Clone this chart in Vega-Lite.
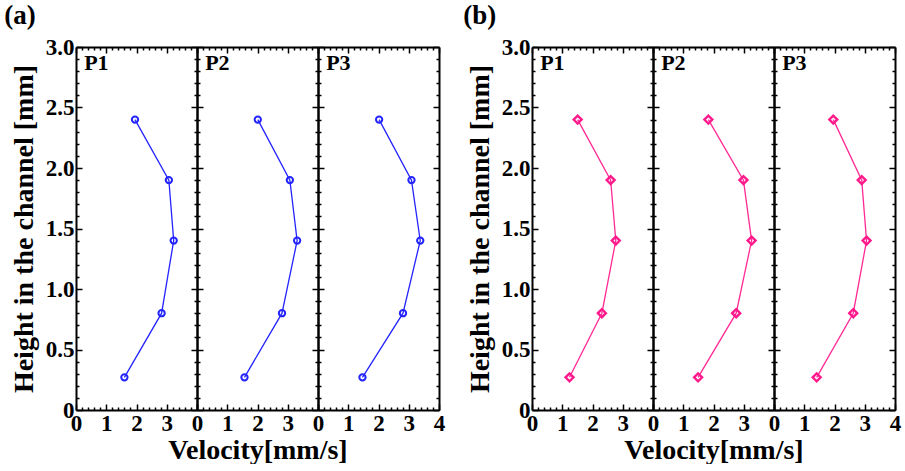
{
  "$schema": "https://vega.github.io/schema/vega-lite/v6.json",
  "background": "white",
  "padding": {"left": 4, "top": 2, "right": 1, "bottom": 0},
  "config": {
    "font": "Liberation Serif",
    "view": {"stroke": null},
    "axis": {
      "grid": false,
      "domainColor": "black",
      "domainWidth": 2,
      "tickColor": "black",
      "tickWidth": 1.5,
      "labelFont": "Liberation Serif",
      "labelFontSize": 23,
      "labelFontWeight": "bold",
      "labelColor": "black",
      "labelOverlap": false,
      "labelFlush": false,
      "labelBound": false,
      "titleFont": "Liberation Serif",
      "titleFontSize": 28,
      "titleFontWeight": "bold",
      "titleColor": "black"
    },
    "axisLeft": {"labelPadding": 8, "titlePadding": 7},
    "axisBottom": {"labelPadding": 8, "titlePadding": 1},
    "title": {"font": "Liberation Serif", "fontSize": 27, "fontWeight": "bold", "color": "black"}
  },
  "datasets": {
    "a": [
      {"panel": "P1", "h": 0.27, "v": 1.60},
      {"panel": "P1", "h": 0.8, "v": 2.83},
      {"panel": "P1", "h": 1.4, "v": 3.23},
      {"panel": "P1", "h": 1.9, "v": 3.07},
      {"panel": "P1", "h": 2.4, "v": 1.95},
      {"panel": "P2", "h": 0.27, "v": 1.57},
      {"panel": "P2", "h": 0.8, "v": 2.81},
      {"panel": "P2", "h": 1.4, "v": 3.31},
      {"panel": "P2", "h": 1.9, "v": 3.07},
      {"panel": "P2", "h": 2.4, "v": 2.01},
      {"panel": "P3", "h": 0.27, "v": 1.47},
      {"panel": "P3", "h": 0.8, "v": 2.81},
      {"panel": "P3", "h": 1.4, "v": 3.38},
      {"panel": "P3", "h": 1.9, "v": 3.09},
      {"panel": "P3", "h": 2.4, "v": 2.02}
    ],
    "b": [
      {"panel": "P1", "h": 0.27, "v": 1.24},
      {"panel": "P1", "h": 0.8, "v": 2.31},
      {"panel": "P1", "h": 1.4, "v": 2.77},
      {"panel": "P1", "h": 1.9, "v": 2.60},
      {"panel": "P1", "h": 2.4, "v": 1.51},
      {"panel": "P2", "h": 0.27, "v": 1.49},
      {"panel": "P2", "h": 0.8, "v": 2.75},
      {"panel": "P2", "h": 1.4, "v": 3.26},
      {"panel": "P2", "h": 1.9, "v": 2.99},
      {"panel": "P2", "h": 2.4, "v": 1.83},
      {"panel": "P3", "h": 0.27, "v": 1.41},
      {"panel": "P3", "h": 0.8, "v": 2.62},
      {"panel": "P3", "h": 1.4, "v": 3.06},
      {"panel": "P3", "h": 1.9, "v": 2.90},
      {"panel": "P3", "h": 2.4, "v": 1.96}
    ]
  },
  "spacing": 18,
  "hconcat": [
    {
      "title": {"text": "(a)", "anchor": "start", "frame": "bounds", "offset": 6, "dx": -6},
      "spacing": 0,
      "bounds": "flush",
      "hconcat": [
        {
          "width": 121, "height": 363,
          "data": {"name": "a"},
          "transform": [{"filter": "datum.panel == 'P1'"}],
          "layer": [
            {"mark": {"type": "line", "color": "#2424ff", "strokeWidth": 1.3},
             "encoding": {
               "x": {"field": "v", "type": "quantitative", "scale": {"domain": [0, 4], "nice": false, "zero": false},
                     "axis": {"orient": "bottom", "title": null, "values": [0, 1, 2, 3, 4], "tickSize": -6, "labelExpr": "datum.value < 3.5 ? datum.label : ''"}},
               "y": {"field": "h", "type": "quantitative", "scale": {"domain": [0, 3], "nice": false, "zero": false},
                     "axis": {"orient": "left", "title": "Height in the channel [mm]", "values": [0, 0.5, 1, 1.5, 2, 2.5, 3], "tickSize": -6,
                              "labelExpr": "datum.value == 0 ? '0' : format(datum.value, '.1f')"}},
               "order": {"field": "h", "type": "quantitative"}
             }},
            {"mark": {"type": "point", "shape": "circle", "filled": false, "color": "#2424ff", "strokeWidth": 2, "size": 40, "opacity": 1},
             "encoding": {
               "x": {"field": "v", "type": "quantitative", "axis": {"orient": "top", "title": null, "labels": false, "values": [0, 1, 2, 3, 4], "tickSize": -6}},
               "y": {"field": "h", "type": "quantitative", "axis": {"orient": "right", "title": null, "labels": false, "values": [0, 0.5, 1, 1.5, 2, 2.5, 3], "tickSize": -6}}
             }},
            {"mark": {"type": "point", "opacity": 0},
             "encoding": {
               "x": {"field": "v", "type": "quantitative", "axis": {"orient": "bottom", "title": null, "labels": false, "domain": false, "tickSize": -3, "values": [0.2,0.4,0.6,0.8,1.2,1.4,1.6,1.8,2.2,2.4,2.6,2.8,3.2,3.4,3.6,3.8]}},
               "y": {"field": "h", "type": "quantitative", "axis": {"orient": "left", "title": null, "labels": false, "domain": false, "tickSize": -3, "values": [0.1,0.2,0.3,0.4,0.6,0.7,0.8,0.9,1.1,1.2,1.3,1.4,1.6,1.7,1.8,1.9,2.1,2.2,2.3,2.4,2.6,2.7,2.8,2.9]}}
             }},
            {"transform": [{"filter": "datum.h == 2.4"}],
             "mark": {"type": "text", "align": "left", "baseline": "top", "fontSize": 22, "fontWeight": "bold", "color": "black"},
             "encoding": {
               "x": {"datum": 0.27, "type": "quantitative", "axis": {"orient": "top", "title": null, "labels": false, "domain": false, "tickSize": -3, "values": [0.2,0.4,0.6,0.8,1.2,1.4,1.6,1.8,2.2,2.4,2.6,2.8,3.2,3.4,3.6,3.8]}},
               "y": {"datum": 2.95, "type": "quantitative", "axis": {"orient": "right", "title": null, "labels": false, "domain": false, "tickSize": -3, "values": [0.1,0.2,0.3,0.4,0.6,0.7,0.8,0.9,1.1,1.2,1.3,1.4,1.6,1.7,1.8,1.9,2.1,2.2,2.3,2.4,2.6,2.7,2.8,2.9]}},
               "text": {"field": "panel"}
             }}
          ],
          "resolve": {"axis": {"x": "independent", "y": "independent"}}
        },
        {
          "width": 121, "height": 363,
          "data": {"name": "a"},
          "transform": [{"filter": "datum.panel == 'P2'"}],
          "layer": [
            {"mark": {"type": "line", "color": "#2424ff", "strokeWidth": 1.3},
             "encoding": {
               "x": {"field": "v", "type": "quantitative", "scale": {"domain": [0, 4], "nice": false, "zero": false},
                     "axis": {"orient": "bottom", "title": "Velocity[mm/s]", "values": [0, 1, 2, 3, 4], "tickSize": -6, "labelExpr": "datum.value < 3.5 ? datum.label : ''"}},
               "y": {"field": "h", "type": "quantitative", "scale": {"domain": [0, 3], "nice": false, "zero": false},
                     "axis": {"orient": "left", "title": null, "labels": false, "values": [0, 0.5, 1, 1.5, 2, 2.5, 3], "tickSize": -6}},
               "order": {"field": "h", "type": "quantitative"}
             }},
            {"mark": {"type": "point", "shape": "circle", "filled": false, "color": "#2424ff", "strokeWidth": 2, "size": 40, "opacity": 1},
             "encoding": {
               "x": {"field": "v", "type": "quantitative", "axis": {"orient": "top", "title": null, "labels": false, "values": [0, 1, 2, 3, 4], "tickSize": -6}},
               "y": {"field": "h", "type": "quantitative", "axis": {"orient": "right", "title": null, "labels": false, "values": [0, 0.5, 1, 1.5, 2, 2.5, 3], "tickSize": -6}}
             }},
            {"mark": {"type": "point", "opacity": 0},
             "encoding": {
               "x": {"field": "v", "type": "quantitative", "axis": {"orient": "bottom", "title": null, "labels": false, "domain": false, "tickSize": -3, "values": [0.2,0.4,0.6,0.8,1.2,1.4,1.6,1.8,2.2,2.4,2.6,2.8,3.2,3.4,3.6,3.8]}},
               "y": {"field": "h", "type": "quantitative", "axis": {"orient": "left", "title": null, "labels": false, "domain": false, "tickSize": -3, "values": [0.1,0.2,0.3,0.4,0.6,0.7,0.8,0.9,1.1,1.2,1.3,1.4,1.6,1.7,1.8,1.9,2.1,2.2,2.3,2.4,2.6,2.7,2.8,2.9]}}
             }},
            {"transform": [{"filter": "datum.h == 2.4"}],
             "mark": {"type": "text", "align": "left", "baseline": "top", "fontSize": 22, "fontWeight": "bold", "color": "black"},
             "encoding": {
               "x": {"datum": 0.27, "type": "quantitative", "axis": {"orient": "top", "title": null, "labels": false, "domain": false, "tickSize": -3, "values": [0.2,0.4,0.6,0.8,1.2,1.4,1.6,1.8,2.2,2.4,2.6,2.8,3.2,3.4,3.6,3.8]}},
               "y": {"datum": 2.95, "type": "quantitative", "axis": {"orient": "right", "title": null, "labels": false, "domain": false, "tickSize": -3, "values": [0.1,0.2,0.3,0.4,0.6,0.7,0.8,0.9,1.1,1.2,1.3,1.4,1.6,1.7,1.8,1.9,2.1,2.2,2.3,2.4,2.6,2.7,2.8,2.9]}},
               "text": {"field": "panel"}
             }}
          ],
          "resolve": {"axis": {"x": "independent", "y": "independent"}}
        },
        {
          "width": 121, "height": 363,
          "data": {"name": "a"},
          "transform": [{"filter": "datum.panel == 'P3'"}],
          "layer": [
            {"mark": {"type": "line", "color": "#2424ff", "strokeWidth": 1.3},
             "encoding": {
               "x": {"field": "v", "type": "quantitative", "scale": {"domain": [0, 4], "nice": false, "zero": false},
                     "axis": {"orient": "bottom", "title": null, "values": [0, 1, 2, 3, 4], "tickSize": -6}},
               "y": {"field": "h", "type": "quantitative", "scale": {"domain": [0, 3], "nice": false, "zero": false},
                     "axis": {"orient": "left", "title": null, "labels": false, "values": [0, 0.5, 1, 1.5, 2, 2.5, 3], "tickSize": -6}},
               "order": {"field": "h", "type": "quantitative"}
             }},
            {"mark": {"type": "point", "shape": "circle", "filled": false, "color": "#2424ff", "strokeWidth": 2, "size": 40, "opacity": 1},
             "encoding": {
               "x": {"field": "v", "type": "quantitative", "axis": {"orient": "top", "title": null, "labels": false, "values": [0, 1, 2, 3, 4], "tickSize": -6}},
               "y": {"field": "h", "type": "quantitative", "axis": {"orient": "right", "title": null, "labels": false, "values": [0, 0.5, 1, 1.5, 2, 2.5, 3], "tickSize": -6}}
             }},
            {"mark": {"type": "point", "opacity": 0},
             "encoding": {
               "x": {"field": "v", "type": "quantitative", "axis": {"orient": "bottom", "title": null, "labels": false, "domain": false, "tickSize": -3, "values": [0.2,0.4,0.6,0.8,1.2,1.4,1.6,1.8,2.2,2.4,2.6,2.8,3.2,3.4,3.6,3.8]}},
               "y": {"field": "h", "type": "quantitative", "axis": {"orient": "left", "title": null, "labels": false, "domain": false, "tickSize": -3, "values": [0.1,0.2,0.3,0.4,0.6,0.7,0.8,0.9,1.1,1.2,1.3,1.4,1.6,1.7,1.8,1.9,2.1,2.2,2.3,2.4,2.6,2.7,2.8,2.9]}}
             }},
            {"transform": [{"filter": "datum.h == 2.4"}],
             "mark": {"type": "text", "align": "left", "baseline": "top", "fontSize": 22, "fontWeight": "bold", "color": "black"},
             "encoding": {
               "x": {"datum": 0.27, "type": "quantitative", "axis": {"orient": "top", "title": null, "labels": false, "domain": false, "tickSize": -3, "values": [0.2,0.4,0.6,0.8,1.2,1.4,1.6,1.8,2.2,2.4,2.6,2.8,3.2,3.4,3.6,3.8]}},
               "y": {"datum": 2.95, "type": "quantitative", "axis": {"orient": "right", "title": null, "labels": false, "domain": false, "tickSize": -3, "values": [0.1,0.2,0.3,0.4,0.6,0.7,0.8,0.9,1.1,1.2,1.3,1.4,1.6,1.7,1.8,1.9,2.1,2.2,2.3,2.4,2.6,2.7,2.8,2.9]}},
               "text": {"field": "panel"}
             }}
          ],
          "resolve": {"axis": {"x": "independent", "y": "independent"}}
        }
      ]
    },
    {
      "title": {"text": "(b)", "anchor": "start", "frame": "bounds", "offset": 6, "dx": -3},
      "spacing": 0,
      "bounds": "flush",
      "hconcat": [
        {
          "width": 121, "height": 363,
          "data": {"name": "b"},
          "transform": [{"filter": "datum.panel == 'P1'"}],
          "layer": [
            {"mark": {"type": "line", "color": "#ff2a95", "strokeWidth": 1.3},
             "encoding": {
               "x": {"field": "v", "type": "quantitative", "scale": {"domain": [0, 4], "nice": false, "zero": false},
                     "axis": {"orient": "bottom", "title": null, "values": [0, 1, 2, 3, 4], "tickSize": -6, "labelExpr": "datum.value < 3.5 ? datum.label : ''"}},
               "y": {"field": "h", "type": "quantitative", "scale": {"domain": [0, 3], "nice": false, "zero": false},
                     "axis": {"orient": "left", "title": "Height in the channel [mm]", "values": [0, 0.5, 1, 1.5, 2, 2.5, 3], "tickSize": -6,
                              "labelExpr": "datum.value == 0 ? '0' : format(datum.value, '.1f')"}},
               "order": {"field": "h", "type": "quantitative"}
             }},
            {"mark": {"type": "point", "shape": "diamond", "filled": false, "color": "#ff1a8c", "strokeWidth": 2.4, "size": 64, "opacity": 1},
             "encoding": {
               "x": {"field": "v", "type": "quantitative", "axis": {"orient": "top", "title": null, "labels": false, "values": [0, 1, 2, 3, 4], "tickSize": -6}},
               "y": {"field": "h", "type": "quantitative", "axis": {"orient": "right", "title": null, "labels": false, "values": [0, 0.5, 1, 1.5, 2, 2.5, 3], "tickSize": -6}}
             }},
            {"mark": {"type": "point", "opacity": 0},
             "encoding": {
               "x": {"field": "v", "type": "quantitative", "axis": {"orient": "bottom", "title": null, "labels": false, "domain": false, "tickSize": -3, "values": [0.2,0.4,0.6,0.8,1.2,1.4,1.6,1.8,2.2,2.4,2.6,2.8,3.2,3.4,3.6,3.8]}},
               "y": {"field": "h", "type": "quantitative", "axis": {"orient": "left", "title": null, "labels": false, "domain": false, "tickSize": -3, "values": [0.1,0.2,0.3,0.4,0.6,0.7,0.8,0.9,1.1,1.2,1.3,1.4,1.6,1.7,1.8,1.9,2.1,2.2,2.3,2.4,2.6,2.7,2.8,2.9]}}
             }},
            {"transform": [{"filter": "datum.h == 2.4"}],
             "mark": {"type": "text", "align": "left", "baseline": "top", "fontSize": 22, "fontWeight": "bold", "color": "black"},
             "encoding": {
               "x": {"datum": 0.27, "type": "quantitative", "axis": {"orient": "top", "title": null, "labels": false, "domain": false, "tickSize": -3, "values": [0.2,0.4,0.6,0.8,1.2,1.4,1.6,1.8,2.2,2.4,2.6,2.8,3.2,3.4,3.6,3.8]}},
               "y": {"datum": 2.95, "type": "quantitative", "axis": {"orient": "right", "title": null, "labels": false, "domain": false, "tickSize": -3, "values": [0.1,0.2,0.3,0.4,0.6,0.7,0.8,0.9,1.1,1.2,1.3,1.4,1.6,1.7,1.8,1.9,2.1,2.2,2.3,2.4,2.6,2.7,2.8,2.9]}},
               "text": {"field": "panel"}
             }}
          ],
          "resolve": {"axis": {"x": "independent", "y": "independent"}}
        },
        {
          "width": 121, "height": 363,
          "data": {"name": "b"},
          "transform": [{"filter": "datum.panel == 'P2'"}],
          "layer": [
            {"mark": {"type": "line", "color": "#ff2a95", "strokeWidth": 1.3},
             "encoding": {
               "x": {"field": "v", "type": "quantitative", "scale": {"domain": [0, 4], "nice": false, "zero": false},
                     "axis": {"orient": "bottom", "title": "Velocity[mm/s]", "values": [0, 1, 2, 3, 4], "tickSize": -6, "labelExpr": "datum.value < 3.5 ? datum.label : ''"}},
               "y": {"field": "h", "type": "quantitative", "scale": {"domain": [0, 3], "nice": false, "zero": false},
                     "axis": {"orient": "left", "title": null, "labels": false, "values": [0, 0.5, 1, 1.5, 2, 2.5, 3], "tickSize": -6}},
               "order": {"field": "h", "type": "quantitative"}
             }},
            {"mark": {"type": "point", "shape": "diamond", "filled": false, "color": "#ff1a8c", "strokeWidth": 2.4, "size": 64, "opacity": 1},
             "encoding": {
               "x": {"field": "v", "type": "quantitative", "axis": {"orient": "top", "title": null, "labels": false, "values": [0, 1, 2, 3, 4], "tickSize": -6}},
               "y": {"field": "h", "type": "quantitative", "axis": {"orient": "right", "title": null, "labels": false, "values": [0, 0.5, 1, 1.5, 2, 2.5, 3], "tickSize": -6}}
             }},
            {"mark": {"type": "point", "opacity": 0},
             "encoding": {
               "x": {"field": "v", "type": "quantitative", "axis": {"orient": "bottom", "title": null, "labels": false, "domain": false, "tickSize": -3, "values": [0.2,0.4,0.6,0.8,1.2,1.4,1.6,1.8,2.2,2.4,2.6,2.8,3.2,3.4,3.6,3.8]}},
               "y": {"field": "h", "type": "quantitative", "axis": {"orient": "left", "title": null, "labels": false, "domain": false, "tickSize": -3, "values": [0.1,0.2,0.3,0.4,0.6,0.7,0.8,0.9,1.1,1.2,1.3,1.4,1.6,1.7,1.8,1.9,2.1,2.2,2.3,2.4,2.6,2.7,2.8,2.9]}}
             }},
            {"transform": [{"filter": "datum.h == 2.4"}],
             "mark": {"type": "text", "align": "left", "baseline": "top", "fontSize": 22, "fontWeight": "bold", "color": "black"},
             "encoding": {
               "x": {"datum": 0.27, "type": "quantitative", "axis": {"orient": "top", "title": null, "labels": false, "domain": false, "tickSize": -3, "values": [0.2,0.4,0.6,0.8,1.2,1.4,1.6,1.8,2.2,2.4,2.6,2.8,3.2,3.4,3.6,3.8]}},
               "y": {"datum": 2.95, "type": "quantitative", "axis": {"orient": "right", "title": null, "labels": false, "domain": false, "tickSize": -3, "values": [0.1,0.2,0.3,0.4,0.6,0.7,0.8,0.9,1.1,1.2,1.3,1.4,1.6,1.7,1.8,1.9,2.1,2.2,2.3,2.4,2.6,2.7,2.8,2.9]}},
               "text": {"field": "panel"}
             }}
          ],
          "resolve": {"axis": {"x": "independent", "y": "independent"}}
        },
        {
          "width": 121, "height": 363,
          "data": {"name": "b"},
          "transform": [{"filter": "datum.panel == 'P3'"}],
          "layer": [
            {"mark": {"type": "line", "color": "#ff2a95", "strokeWidth": 1.3},
             "encoding": {
               "x": {"field": "v", "type": "quantitative", "scale": {"domain": [0, 4], "nice": false, "zero": false},
                     "axis": {"orient": "bottom", "title": null, "values": [0, 1, 2, 3, 4], "tickSize": -6}},
               "y": {"field": "h", "type": "quantitative", "scale": {"domain": [0, 3], "nice": false, "zero": false},
                     "axis": {"orient": "left", "title": null, "labels": false, "values": [0, 0.5, 1, 1.5, 2, 2.5, 3], "tickSize": -6}},
               "order": {"field": "h", "type": "quantitative"}
             }},
            {"mark": {"type": "point", "shape": "diamond", "filled": false, "color": "#ff1a8c", "strokeWidth": 2.4, "size": 64, "opacity": 1},
             "encoding": {
               "x": {"field": "v", "type": "quantitative", "axis": {"orient": "top", "title": null, "labels": false, "values": [0, 1, 2, 3, 4], "tickSize": -6}},
               "y": {"field": "h", "type": "quantitative", "axis": {"orient": "right", "title": null, "labels": false, "values": [0, 0.5, 1, 1.5, 2, 2.5, 3], "tickSize": -6}}
             }},
            {"mark": {"type": "point", "opacity": 0},
             "encoding": {
               "x": {"field": "v", "type": "quantitative", "axis": {"orient": "bottom", "title": null, "labels": false, "domain": false, "tickSize": -3, "values": [0.2,0.4,0.6,0.8,1.2,1.4,1.6,1.8,2.2,2.4,2.6,2.8,3.2,3.4,3.6,3.8]}},
               "y": {"field": "h", "type": "quantitative", "axis": {"orient": "left", "title": null, "labels": false, "domain": false, "tickSize": -3, "values": [0.1,0.2,0.3,0.4,0.6,0.7,0.8,0.9,1.1,1.2,1.3,1.4,1.6,1.7,1.8,1.9,2.1,2.2,2.3,2.4,2.6,2.7,2.8,2.9]}}
             }},
            {"transform": [{"filter": "datum.h == 2.4"}],
             "mark": {"type": "text", "align": "left", "baseline": "top", "fontSize": 22, "fontWeight": "bold", "color": "black"},
             "encoding": {
               "x": {"datum": 0.27, "type": "quantitative", "axis": {"orient": "top", "title": null, "labels": false, "domain": false, "tickSize": -3, "values": [0.2,0.4,0.6,0.8,1.2,1.4,1.6,1.8,2.2,2.4,2.6,2.8,3.2,3.4,3.6,3.8]}},
               "y": {"datum": 2.95, "type": "quantitative", "axis": {"orient": "right", "title": null, "labels": false, "domain": false, "tickSize": -3, "values": [0.1,0.2,0.3,0.4,0.6,0.7,0.8,0.9,1.1,1.2,1.3,1.4,1.6,1.7,1.8,1.9,2.1,2.2,2.3,2.4,2.6,2.7,2.8,2.9]}},
               "text": {"field": "panel"}
             }}
          ],
          "resolve": {"axis": {"x": "independent", "y": "independent"}}
        }
      ]
    }
  ]
}
